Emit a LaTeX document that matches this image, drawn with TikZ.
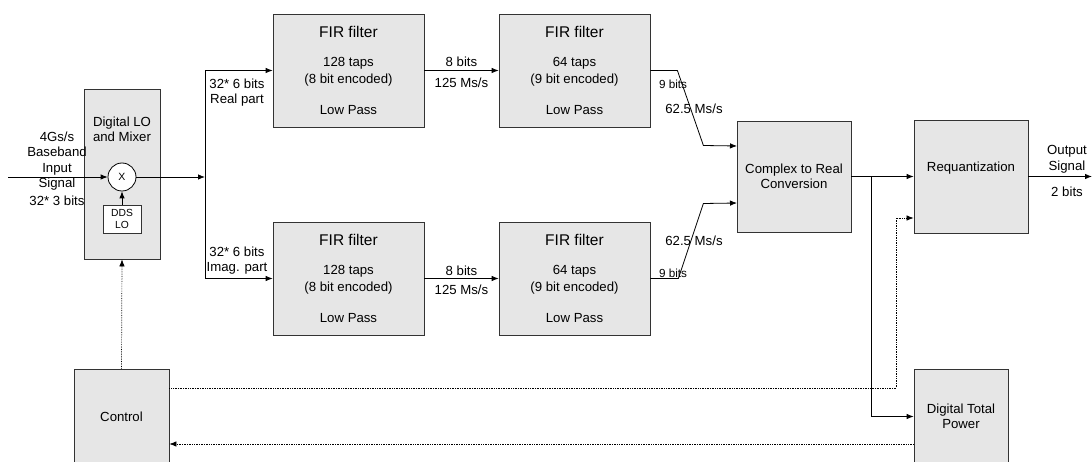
\documentclass[tikz,border=0pt]{standalone}
\usepackage{fontspec}
\setmainfont{Liberation Sans}
\usetikzlibrary{arrows.meta}

\definecolor{boxgray}{HTML}{E6E6E6}
\definecolor{edgegray}{HTML}{333333}

\tikzset{
  block/.style={draw=edgegray, fill=boxgray, line width=0.8pt, inner sep=0pt,
    align=center, font=\fontsize{13.2}{15}\selectfont},
  firbox/.style={block, minimum width=151pt, minimum height=113pt,
    font=\fontsize{13.2}{17}\selectfont},
  sig/.style={line width=0.8pt, -{Latex[length=7pt,width=5.5pt]}},
  wire/.style={line width=0.8pt},
  ctl/.style={line width=0.7pt, densely dotted, -{Latex[length=7pt,width=5.5pt]}},
  lbl/.style={align=center, inner sep=0pt, font=\fontsize{13.2}{15.5}\selectfont},
  small/.style={align=center, inner sep=0pt, font=\fontsize{11.7}{14}\selectfont}
}

\newcommand{\firtext}[2]{{\fontsize{15.5}{17}\selectfont FIR filter}\\[12pt]#1\\#2\\[14pt]Low Pass}

\begin{document}
\begin{tikzpicture}[x=1pt, y=-1pt]
	\useasboundingbox (0,0) rectangle (1092,462);

	% Mixer stage
	\node[block, minimum width=76pt, minimum height=170pt] (lo) at (122,174) {};
	\node[lbl, font=\fontsize{13.2}{15}\selectfont] (lotitle) at (122,129.5) {Digital LO\\and Mixer};
	\node[draw=black, fill=white, circle, line width=0.8pt, minimum size=28pt, inner sep=0pt,
		font=\fontsize{10.5}{12}\selectfont] (mix) at (122,177) {X};
	\node[draw=edgegray, fill=white, line width=0.8pt, minimum width=38pt, minimum height=28pt,
		inner sep=0pt, align=center, font=\fontsize{10.3}{12.5}\selectfont] (dds) at (122,219) {DDS\\LO};
	\node[lbl] (inlbl) at (57,169) {4Gs/s\\Baseband\\Input\\Signal\\[2.5pt]32* 3 bits};
	\coordinate (src) at (8,177);
	\coordinate (split) at (205,177);

	% FIR filters
	\node[firbox] (firA) at (348.5,70.5) {\firtext{128 taps}{(8 bit encoded)}};
	\node[firbox] (firB) at (574.5,70.5) {\firtext{64 taps}{(9 bit encoded)}};
	\node[firbox] (firC) at (348.5,278.5) {\firtext{128 taps}{(8 bit encoded)}};
	\node[firbox] (firD) at (574.5,278.5) {\firtext{64 taps}{(9 bit encoded)}};

	% Back end
	\node[block, minimum width=114pt, minimum height=111pt] (cplx) at (794,176.5) {Complex to Real\\Conversion};
	\node[block, minimum width=114pt, minimum height=113pt] (req) at (971,176.5) {};
	\node[lbl] (reqtxt) at (971,168) {Requantization};
	\node[block, minimum width=94pt, minimum height=95pt] (dtp) at (961,416.5) {Digital Total\\Power};
	\node[block, minimum width=95pt, minimum height=95pt] (ctrl) at (121.5,416.5) {Control};
	\coordinate (inRe) at (737,146);
	\coordinate (inIm) at (737,203);
	\coordinate (tap) at (871,176.5);
	\coordinate (out) at (1092,176.5);

	% Signal path
	\draw[sig] (src) -- (mix.west);
	\draw[sig] (dds.north) -- (mix.south);
	\draw[sig] (mix.east) -- (split);
	\draw[sig] (split) |- (firA.west);
	\draw[sig] (split) |- (firC.west);
	\draw[sig] (firA.east) -- (firB.west);
	\draw[sig] (firC.east) -- (firD.west);
	\draw[sig] (firB.east) -- ++(27,0) -- ++(26,75) -- (inRe);
	\draw[sig] (firD.east) -- ++(28,0) -- ++(25,-75) -- (inIm);
	\draw[sig] (cplx.east) -- (req.west);
	\draw[sig] (tap) |- (dtp.west);
	\draw[sig] (req.east) -- (out);

	% Control lines
	\draw[ctl] (ctrl.north) -- (lo.south);
	\draw[ctl] ([yshift=28.5pt]ctrl.east) -- (896,388) |- ([yshift=-41.5pt]req.west);
	\draw[ctl] ([yshift=-27.5pt]dtp.west) -- ([yshift=-27.5pt]ctrl.east);

	% Labels
	\node[lbl] (reLbl) at (237,92.5) {32* 6 bits\\Real part};
	\node[lbl] (imLbl) at (237,260.5) {32* 6 bits\\Imag. part};
	\node[lbl] (bitsA) at (461.5,62) {8 bits};
	\node[lbl] (rateA) at (461.5,83) {125 Ms/s};
	\node[lbl] (bitsC) at (461.5,271) {8 bits};
	\node[lbl] (rateC) at (461.5,290) {125 Ms/s};
	\node[small] (bitsB) at (673,84) {9 bits};
	\node[lbl] (rateB) at (694,109) {62.5 Ms/s};
	\node[lbl] (rateD) at (694,240.5) {62.5 Ms/s};
	\node[small] (bitsD) at (673,273) {9 bits};
	\node[lbl] (outLbl) at (1067,159.5) {Output\\Signal};
	\node[lbl] (outBits) at (1067,192) {2 bits};
\end{tikzpicture}
\end{document}
